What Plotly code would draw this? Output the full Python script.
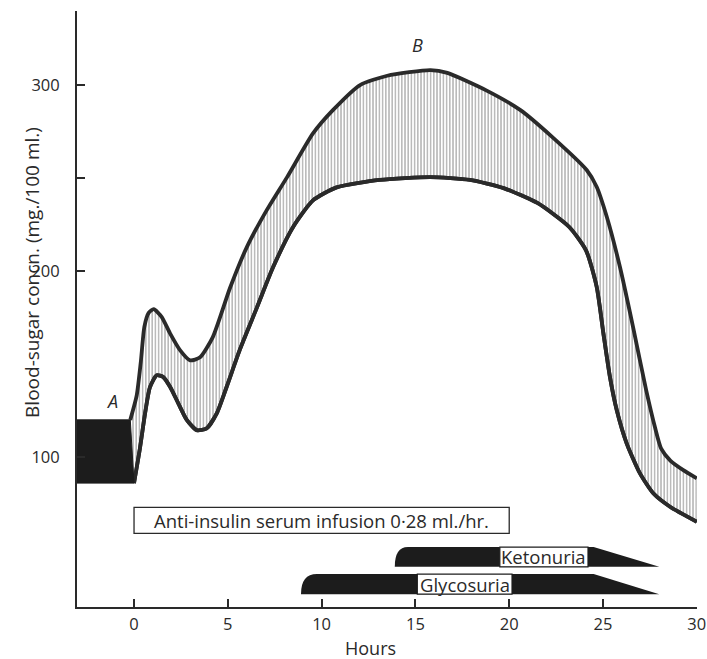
import plotly.graph_objects as go

# ---- data (hours, mg/100 ml) ----
upper_x = [-0.2, 0.14, 0.36, 0.55, 0.78, 1.05, 1.47, 1.92, 2.45, 2.99, 3.52, 4.2, 5.12, 6.02,
           7.09, 8.16, 9.54, 10.6, 12.05, 13.5, 15.8, 16.7, 18.8, 20.6, 22.3, 24.13, 24.66,
           25.2, 25.9, 26.6, 27.3, 27.77, 28.1, 28.6, 29.28, 30.0]
upper_y = [120, 133, 151, 170, 177.5, 179.5, 175.4, 166.5, 157.5, 152, 153.6, 164.5, 191, 213,
           233, 250.5, 274, 286.5, 300, 305, 308, 306.5, 297, 286.5, 272, 254.3, 245.3,
           229.2, 202.3, 170, 136, 116, 104.5, 98, 93, 88.6]
lower_x = [0.0, 0.32, 0.59, 0.85, 1.21, 1.56, 1.92, 2.36, 2.81, 3.34, 3.87, 4.41, 4.94, 5.65,
           6.56, 7.41, 8.48, 9.54, 10.8, 13.1, 15.8, 17.9, 19.7, 21.5, 23.2, 24.1, 24.66,
           25.02, 25.37, 25.73, 26.26, 26.97, 27.68, 28.57, 30.0]
lower_y = [86, 105, 123.6, 137.6, 144, 143, 137.8, 128.9, 120, 114.5, 115.4, 123.5, 137.8, 158,
           180.6, 202, 223.7, 238, 245, 249, 250.5, 249, 244.6, 236.6, 223.7, 211, 191.6,
           166.5, 143, 125.3, 107.4, 91.2, 80.5, 73.3, 65.2]

# control period block "A"
block_x = [-3.2, -0.2, 0.0, -3.2]
block_y = [120, 120, 86, 86]

# infusion period
infusion_start, infusion_label_end = 0, 20
infusion_y = [59, 73]
infusion_text = "Anti-insulin serum infusion 0·28 ml./hr."

# urinary findings: onset, full, decline start, end (hours); y band; label box
bars = [
    dict(name="Ketonuria", t=[13.9, 14.6, 24.5, 28.0], y=[41, 51.6], label_x=[19.5, 24.2]),
    dict(name="Glycosuria", t=[8.9, 9.75, 24.5, 28.0], y=[26.3, 37.1], label_x=[15.1, 20.15]),
]

x_ticks = [0, 5, 10, 15, 20, 25, 30]
y_ticks = [100, 200, 250, 300]
y_ticktext = ["100", "200", "", "300"]

FONT = "Open Sans"
INK = "#2a2a2a"
FS = 18
FS_TICK = 16.5

fig = go.Figure()

line_style = dict(color=INK, width=3.8, shape="spline", smoothing=0.6)

# band
fig.add_trace(go.Scatter(x=lower_x, y=lower_y, mode="lines", line=line_style,
                         hoverinfo="skip", showlegend=False))
fig.add_trace(go.Scatter(x=upper_x, y=upper_y, mode="lines", fill="tonexty",
                         fillcolor="white",
                         fillpattern=dict(shape="|", size=3.2, solidity=0.38,
                                          fgcolor="#4a4a4a", bgcolor="white"),
                         line=line_style, hoverinfo="skip", showlegend=False))
fig.add_trace(go.Scatter(x=lower_x, y=lower_y, mode="lines", line=line_style,
                         hoverinfo="skip", showlegend=False))

# block A
fig.add_trace(go.Scatter(x=block_x, y=block_y, mode="lines", fill="toself",
                         fillcolor="#1c1c1c", line=dict(color="#1c1c1c", width=1),
                         hoverinfo="skip", showlegend=False))

shapes = []
annotations = []
for b in bars:
    a, f, c, d = b["t"]
    yb, yt = b["y"]
    path = f"M {a},{yb} Q {a},{yt} {f},{yt} L {c},{yt} L {d},{yb} Z"
    shapes.append(dict(type="path", path=path, xref="x", yref="y",
                       fillcolor="#1c1c1c", line=dict(width=0)))
    lx0, lx1 = b["label_x"]
    shapes.append(dict(type="rect", xref="x", yref="y", x0=lx0, x1=lx1, y0=yb, y1=yt,
                       fillcolor="white", line=dict(color="#1c1c1c", width=1.2)))
    annotations.append(dict(x=(lx0 + lx1) / 2, y=(yb + yt) / 2, xref="x", yref="y",
                            text=b["name"], showarrow=False,
                            font=dict(family=FONT, size=18.5, color=INK)))

shapes.append(dict(type="rect", xref="x", yref="y", x0=infusion_start, x1=infusion_label_end,
                   y0=infusion_y[0], y1=infusion_y[1], fillcolor="white",
                   line=dict(color=INK, width=1.3)))
annotations.append(dict(x=(infusion_start + infusion_label_end) / 2, y=sum(infusion_y) / 2,
                        xref="x", yref="y", text=infusion_text, showarrow=False,
                        font=dict(family=FONT, size=18.5, color=INK)))

annotations += [
    dict(x=-1.2, y=130, xref="x", yref="y", text="<i>A</i>", showarrow=False,
         font=dict(family=FONT, size=FS, color=INK)),
    dict(x=15.1, y=321.5, xref="x", yref="y", text="<i>B</i>", showarrow=False,
         font=dict(family=FONT, size=FS, color=INK)),
    dict(x=12.6, y=0, xref="x", yref="paper", yshift=-41, yanchor="middle", text="Hours",
         showarrow=False, font=dict(family=FONT, size=FS, color=INK)),
    dict(x=0, y=199, xref="paper", yref="y", xshift=-60, textangle=-90,
         text="Blood-sugar concn. (mg./100 ml.)", showarrow=False,
         font=dict(family=FONT, size=19, color=INK)),
]

fig.update_layout(
    width=707, height=659,
    margin=dict(l=77, r=10, t=11, b=52, autoexpand=False),
    paper_bgcolor="white", plot_bgcolor="white",
    shapes=shapes, annotations=annotations,
    xaxis=dict(range=[-3.04, 30.01], tickvals=x_ticks, ticks="inside", ticklen=8,
               tickwidth=1.5, tickcolor=INK, showline=True, linecolor=INK, linewidth=2,
               showgrid=False, zeroline=False, ticklabelstandoff=1,
               ticklabeloverflow="allow", automargin=False,
               tickfont=dict(family=FONT, size=FS_TICK, color=INK)),
    yaxis=dict(range=[19.4, 339.8], tickvals=y_ticks, ticktext=y_ticktext, ticks="inside",
               ticklen=8, tickwidth=1.5, tickcolor=INK, showline=True, linecolor=INK,
               linewidth=2, showgrid=False, zeroline=False, ticklabelstandoff=12,
               automargin=False,
               tickfont=dict(family=FONT, size=FS_TICK, color=INK)),
)

fig.write_html("out.html")
